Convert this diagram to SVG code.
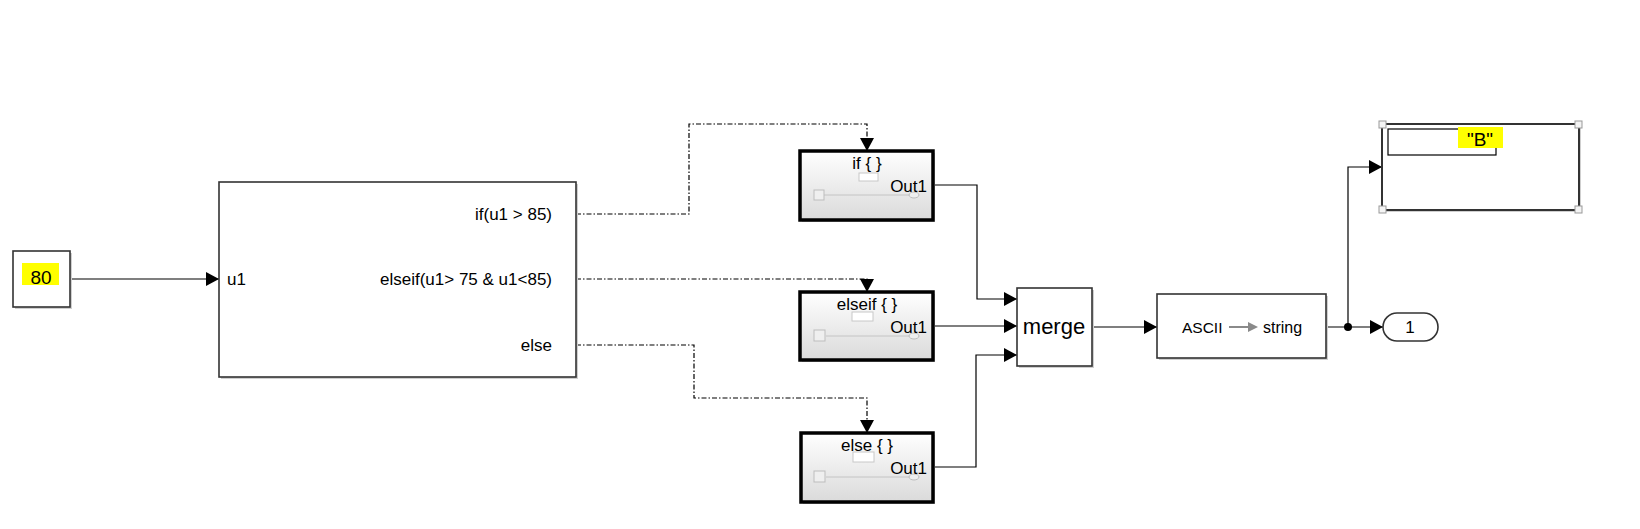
<svg xmlns="http://www.w3.org/2000/svg" width="1640" height="529" viewBox="0 0 1640 529">
<style>
.t{font-family:"Liberation Sans",Arial,sans-serif;fill:#000}
.blk{fill:#fff;stroke:#333;stroke-width:1.6}
.shd{fill:#cfcfcf}
.sub{fill:url(#g);stroke:#000;stroke-width:3.5}
.sig{fill:none;stroke:#000;stroke-width:1.2}
.act{fill:none;stroke:#000;stroke-width:1.2;stroke-dasharray:5 2 1.5 2}
.ph{fill:#fff;stroke:#c8c8c8;stroke-width:1}
.psq{fill:#efefef;stroke:#bdbdbd;stroke-width:1}
.pln{stroke:#c4c4c4;stroke-width:1}
.hdl{fill:#f4f4f4;stroke:#999;stroke-width:1}
</style>
<defs>
<linearGradient id="g" x1="0" y1="0" x2="0" y2="1">
<stop offset="0" stop-color="#ffffff"/>
<stop offset="1" stop-color="#dadada"/>
</linearGradient>
<marker id="a" markerUnits="userSpaceOnUse" markerWidth="14" markerHeight="14" refX="13" refY="7" orient="auto">
<path d="M0,0 L13,7 L0,14 Z" fill="#000"/>
</marker>
</defs>

<g id="connectors">
<path class="sig" d="M70,279 H219" marker-end="url(#a)"/>
<path class="act" d="M576,214 H689 V124 H867 V151" marker-end="url(#a)"/>
<path class="act" d="M576,279 H867 V292" marker-end="url(#a)"/>
<path class="act" d="M576,345 H694 V398 H867 V433" marker-end="url(#a)"/>
<path class="sig" d="M933,185 H977 V299 H1017" marker-end="url(#a)"/>
<path class="sig" d="M933,326 H1017" marker-end="url(#a)"/>
<path class="sig" d="M933,467 H976 V355 H1017" marker-end="url(#a)"/>
<path class="sig" d="M1092,327 H1157" marker-end="url(#a)"/>
<path class="sig" d="M1326,327 H1383" marker-end="url(#a)"/>
<path class="sig" d="M1348,327 V167 H1382" marker-end="url(#a)"/>
<circle cx="1348" cy="327" r="4" fill="#000"/>
</g>

<g id="constant">
<rect class="shd" x="15" y="253" width="57" height="56"/>
<rect class="blk" x="13" y="251" width="57" height="56"/>
<rect x="22" y="263" width="37" height="22" fill="#ffff00"/>
<text class="t" x="41" y="284" font-size="19" text-anchor="middle">80</text>
</g>

<g id="if_action">
<rect class="shd" x="221" y="184" width="357" height="195"/>
<rect class="blk" x="219" y="182" width="357" height="195"/>
<text class="t" x="227" y="285" font-size="17">u1</text>
<text class="t" x="552" y="220" font-size="17" text-anchor="end">if(u1 &gt; 85)</text>
<text class="t" x="552" y="285" font-size="17" text-anchor="end">elseif(u1&gt; 75 &amp; u1&lt;85)</text>
<text class="t" x="552" y="351" font-size="17" text-anchor="end">else</text>
</g>

<g id="if_subsystem">
<rect class="shd" x="802" y="153" width="133" height="69"/>
<rect class="sub" x="800" y="151" width="133" height="69"/>
<text class="t" x="867" y="169" font-size="17" text-anchor="middle">if { }</text>
<rect class="ph" x="859" y="173" width="19" height="8"/>
<line class="pln" x1="824" y1="195" x2="910" y2="195"/>
<rect class="psq" x="814" y="190" width="10" height="10"/>
<ellipse class="psq" cx="914" cy="195" rx="5" ry="3"/>
<text class="t" x="927" y="192" font-size="17" text-anchor="end">Out1</text>
</g>

<g id="elseif_subsystem">
<rect class="shd" x="802" y="294" width="133" height="68"/>
<rect class="sub" x="800" y="292" width="133" height="68"/>
<text class="t" x="867" y="310" font-size="17" text-anchor="middle">elseif { }</text>
<rect class="ph" x="852" y="312" width="21" height="9"/>
<line class="pln" x1="826" y1="336" x2="909" y2="336"/>
<rect class="psq" x="814" y="330" width="11" height="11"/>
<ellipse class="psq" cx="914" cy="336" rx="5" ry="3"/>
<text class="t" x="927" y="333" font-size="17" text-anchor="end">Out1</text>
</g>

<g id="else_subsystem">
<rect class="shd" x="803" y="435" width="132" height="69"/>
<rect class="sub" x="801" y="433" width="132" height="69"/>
<text class="t" x="867" y="451" font-size="17" text-anchor="middle">else { }</text>
<rect class="ph" x="853" y="452" width="21" height="10"/>
<line class="pln" x1="826" y1="477" x2="909" y2="477"/>
<rect class="psq" x="814" y="471" width="11" height="11"/>
<ellipse class="psq" cx="914" cy="477" rx="5" ry="3"/>
<text class="t" x="927" y="474" font-size="17" text-anchor="end">Out1</text>
</g>

<g id="merge">
<rect class="shd" x="1019" y="290" width="75" height="78"/>
<rect class="blk" x="1017" y="288" width="75" height="78"/>
<text class="t" x="1054" y="334" font-size="22" text-anchor="middle">merge</text>
</g>

<g id="ascii_to_string">
<rect class="shd" x="1159" y="296" width="169" height="64"/>
<rect class="blk" x="1157" y="294" width="169" height="64"/>
<text class="t" x="1182" y="333" font-size="15.5">ASCII</text>
<line x1="1229" y1="327" x2="1250" y2="327" stroke="#8a8a8a" stroke-width="2"/>
<path d="M1248,322 L1258,327 L1248,332 Z" fill="#8a8a8a"/>
<text class="t" x="1263" y="333" font-size="16">string</text>
</g>

<g id="outport">
<rect class="blk" x="1383" y="313" width="55" height="28" rx="14" ry="14"/>
<text class="t" x="1410" y="333" font-size="17" text-anchor="middle">1</text>
</g>

<g id="display">
<rect class="shd" x="1384" y="126" width="197" height="86"/>
<rect x="1382" y="124" width="197" height="86" fill="#fff" stroke="#333" stroke-width="2"/>
<rect x="1388" y="129" width="108" height="26" fill="#fff" stroke="#000" stroke-width="1.2"/>
<rect x="1458" y="127" width="45" height="21" fill="#ffff00"/>
<text class="t" x="1480" y="146" font-size="19" text-anchor="middle">"B"</text>
<rect class="hdl" x="1379" y="121" width="7" height="7"/>
<rect class="hdl" x="1575" y="121" width="7" height="7"/>
<rect class="hdl" x="1379" y="206" width="7" height="7"/>
<rect class="hdl" x="1575" y="206" width="7" height="7"/>
</g>
</svg>
